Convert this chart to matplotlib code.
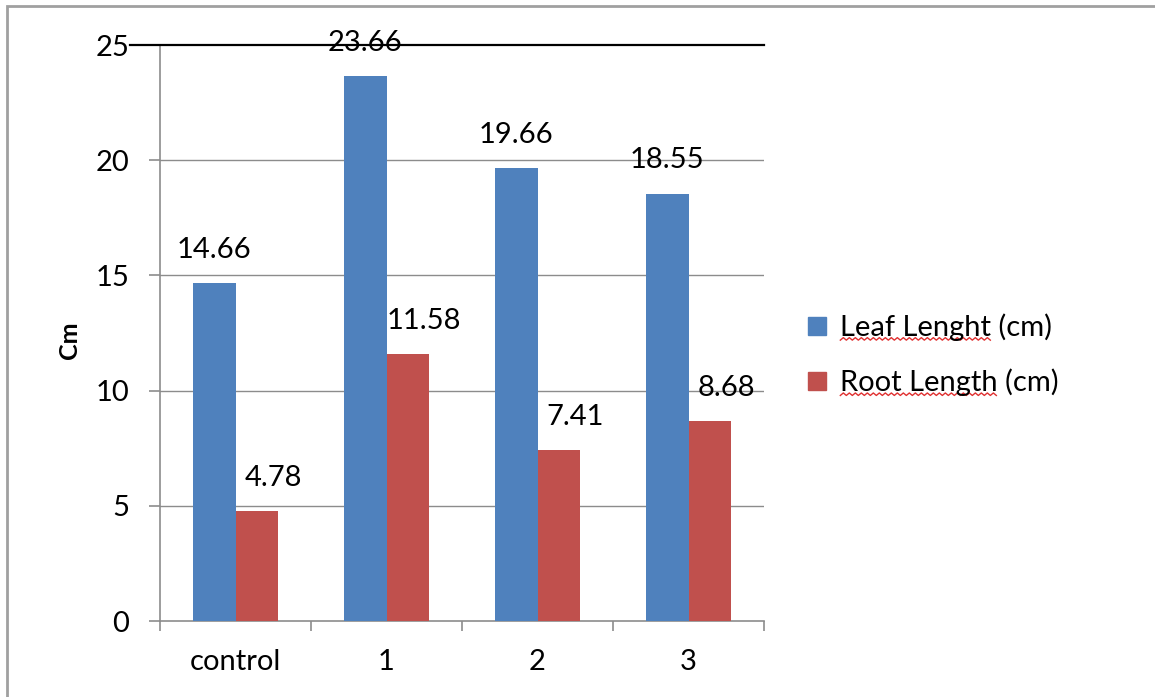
import numpy as np
import matplotlib
matplotlib.use("Agg")
import matplotlib.pyplot as plt
from matplotlib.patches import Patch, Rectangle
from matplotlib.lines import Line2D

categories = ["control", "1", "2", "3"]
leaf_length = [14.66, 23.66, 19.66, 18.55]
root_length = [4.78, 11.58, 7.41, 8.68]
series_names = ["Leaf Lenght (cm)", "Root Length (cm)"]
misspelled = ["Leaf Lenght", "Root Length"]

BLUE = "#4F81BD"
RED = "#C0504D"
GRID = "#8C8C8C"
FS = 21

plt.rcParams['font.family'] = ['Lato', 'DejaVu Sans']

fig = plt.figure(figsize=(11.55, 6.97), dpi=100)
ax = fig.add_axes([160 / 1155, 1 - 621 / 697, 604 / 1155, 576 / 697])

x = np.arange(len(categories))
w = 0.28
b1 = ax.bar(x - w / 2, leaf_length, w, color=BLUE, zorder=3)
b2 = ax.bar(x + w / 2, root_length, w, color=RED, zorder=3)

ax.set_xlim(-0.5, len(categories) - 0.5)
ax.set_ylim(0, 25)
ax.set_yticks([0, 5, 10, 15, 20, 25])
for v in [5, 10, 15, 20]:
    ax.axhline(v, color=GRID, lw=1.0, zorder=1)
# top line is black and runs past the axis
ax.axhline(25, xmin=-0.05, xmax=1, color="black", lw=1.6, zorder=4, clip_on=False)

ax.set_xticks(x)
ax.set_xticklabels(categories)
ax.set_xticks(np.arange(-0.5, len(categories)), minor=True)
ax.tick_params(axis="x", which="major", length=0, pad=20, labelsize=FS)
ax.tick_params(axis="x", which="minor", length=7, color=GRID, width=1.2)
ax.tick_params(axis="y", length=8, color=GRID, width=1.2, pad=14, labelsize=FS)

for s in ["top", "right"]:
    ax.spines[s].set_visible(False)
ax.spines["left"].set_color(GRID)
ax.spines["bottom"].set_color(GRID)
ax.spines["left"].set_linewidth(1.2)
ax.spines["bottom"].set_linewidth(1.2)

for rect, v in zip(b1, leaf_length):
    ax.annotate(f"{v:.2f}", (rect.get_x() + rect.get_width() / 2, v),
                xytext=(0, 24), textcoords="offset points",
                ha="center", va="center", fontsize=FS, zorder=5)
for rect, v in zip(b2, root_length):
    ax.annotate(f"{v:.2f}", (rect.get_x() + rect.get_width() / 2, v),
                xytext=(12, 24), textcoords="offset points",
                ha="center", va="center", fontsize=FS, zorder=5)

fig.text(70 / 1155, 1 - 340 / 697, "Cm", rotation=90, fontsize=18,
         fontweight="bold", ha="center", va="center")

handles = [Patch(color=BLUE), Patch(color=RED)]
leg = fig.legend(handles, series_names, loc="center left",
                 bbox_to_anchor=(782 / 1155, 1 - 355 / 697), frameon=False,
                 fontsize=FS, handlelength=0.6, handleheight=0.6,
                 handletextpad=0.5, labelspacing=0.95)

# red spell-check squiggles under the words
fig.canvas.draw()
r = fig.canvas.get_renderer()
for t, word in zip(leg.get_texts(), misspelled):
    bb = t.get_window_extent(r)
    tmp = fig.text(0, 0, word, fontsize=FS)
    ww = tmp.get_window_extent(r).width
    tmp.remove()
    xs = np.arange(bb.x0, bb.x0 + ww, 3.0)
    ys = bb.y0 + 1 + np.where(np.arange(len(xs)) % 2 == 0, 0, 2.5)
    fig.add_artist(Line2D(xs / 1155, ys / 697, color="#E03030", lw=1.0,
                          transform=fig.transFigure))

# outer chart border
fig.add_artist(Rectangle((7 / 1155, -0.05), 1.2, 1 - 6 / 697 + 0.05,
                         transform=fig.transFigure, fill=False,
                         edgecolor="#A0A0A0", lw=2))

fig.savefig("out.png", dpi=100)
